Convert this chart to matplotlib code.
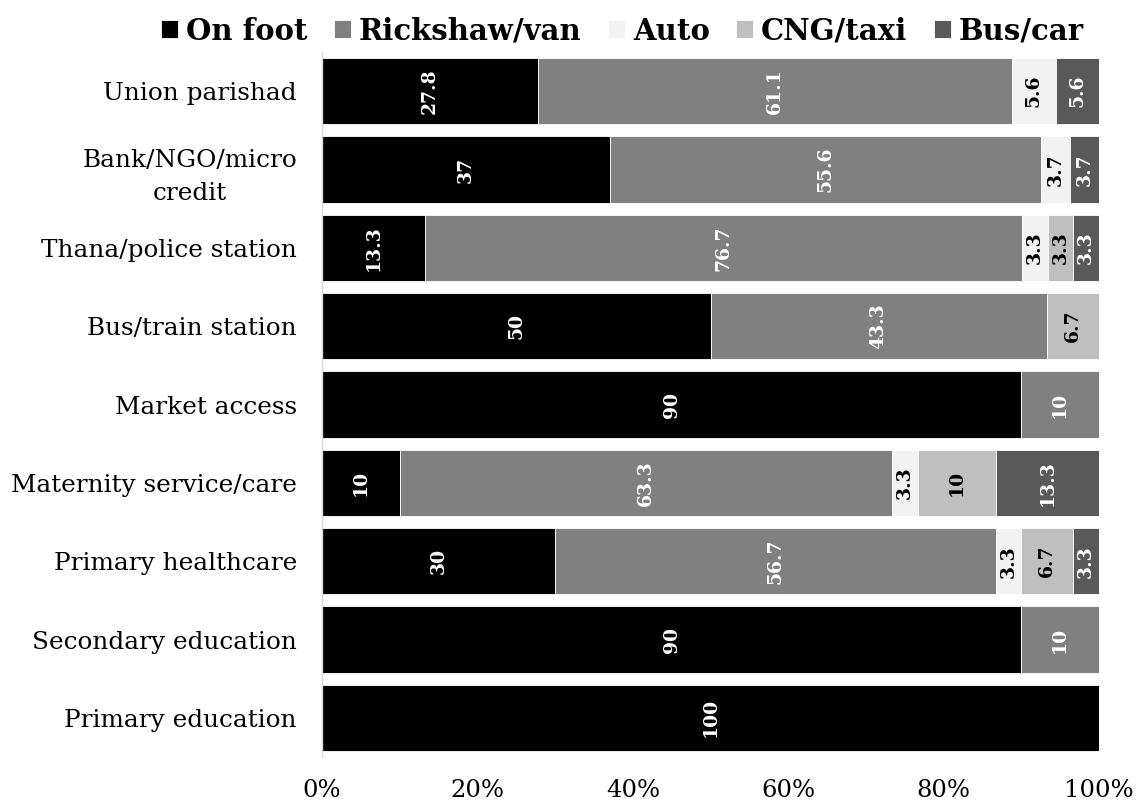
import matplotlib
matplotlib.use("Agg")
import matplotlib.pyplot as plt
import matplotlib.transforms as mtransforms
import numpy as np

plt.rcParams['font.family'] = ['DejaVu Serif']

categories = ["Union parishad", "Bank/NGO/micro\ncredit", "Thana/police station",
              "Bus/train station", "Market access", "Maternity service/care",
              "Primary healthcare", "Secondary education", "Primary education"]
series_names = ["On foot", "Rickshaw/van", "Auto", "CNG/taxi", "Bus/car"]
on_foot = [27.8, 37, 13.3, 50, 90, 10, 30, 90, 100]
rickshaw = [61.1, 55.6, 76.7, 43.3, 10, 63.3, 56.7, 10, 0]
auto = [5.6, 3.7, 3.3, 0, 0, 3.3, 3.3, 0, 0]
cng = [0, 0, 3.3, 6.7, 0, 10, 6.7, 0, 0]
bus = [5.6, 3.7, 3.3, 0, 0, 13.3, 3.3, 0, 0]
xticks = [0, 20, 40, 60, 80, 100]

colors = ["#000000", "#808080", "#f2f2f2", "#bfbfbf", "#595959"]
text_colors = ["white", "white", "black", "black", "white"]

fig = plt.figure(figsize=(11.36, 8.10), dpi=100)
ax = fig.add_axes([0.2835, 0.0654, 0.6839, 0.8704])

data = [on_foot, rickshaw, auto, cng, bus]
y = np.arange(len(categories))[::-1]
totals = np.array([sum(v) for v in zip(*data)])
left = np.zeros(len(categories))
for name, vals, c, tc in zip(series_names, data, colors, text_colors):
    vals = np.array(vals, dtype=float)
    pct = vals / totals * 100
    ax.barh(y, pct, left=left, height=0.85, color=c, edgecolor="white",
            linewidth=0.6, label=name)
    for yi, l, w, v in zip(y, left, pct, vals):
        if v > 0:
            ax.text(l + w / 2, yi, f"{v:g}", rotation=90, ha="center", va="center",
                    color=tc, fontsize=13.5, fontweight="bold")
    left += pct

ax.set_xlim(0, 100)
ax.set_ylim(-0.5, len(categories) - 0.5)
ax.set_yticks(y)
ax.set_yticklabels(categories, fontsize=17.8, linespacing=1.55)
for lbl in ax.get_yticklabels():
    lbl.set_horizontalalignment("center")
ax.set_xticks(xticks)
ax.set_xticklabels([f"{t}%" for t in xticks], fontsize=17.5)
ax.tick_params(axis="both", length=0)
ax.tick_params(axis="x", pad=16)
ax.tick_params(axis="y", pad=12)
for s in ["top", "right", "bottom"]:
    ax.spines[s].set_visible(False)
ax.spines["left"].set_color("#d9d9d9")
ax.spines["left"].set_linewidth(1)

fig.canvas.draw()
# center each category label under a common right edge
renderer = fig.canvas.get_renderer()
right_px = 297
for lbl in ax.get_yticklabels():
    w = lbl.get_window_extent(renderer).width
    lbl.set_transform(mtransforms.blended_transform_factory(fig.transFigure, ax.transData))
    lbl.set_x((right_px - w / 2) / fig.bbox.width)

fig.legend(loc="upper center", bbox_to_anchor=(0.548, 1.012), ncol=5, frameon=False,
           prop={"size": 21, "weight": "bold"}, handlelength=0.58, handleheight=0.58,
           handletextpad=0.28, columnspacing=0.9)

fig.savefig("out.png", dpi=100)
